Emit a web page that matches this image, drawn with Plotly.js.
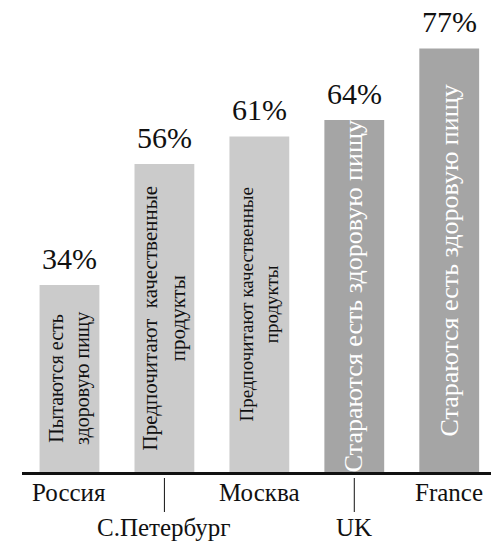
<!DOCTYPE html>
<html><head><meta charset="utf-8">
<script src="https://cdn.plot.ly/plotly-3.0.1.min.js"></script>
<style>html,body{margin:0;padding:0;background:#fff}#chart{width:491px;height:546px}</style>
</head><body><div id="chart"></div>
<script>
const categories = ["Россия", "С.Петербург", "Москва", "UK", "France"];
const values = [34, 56, 61, 64, 77];
const innerTexts = [
  "Пытаются есть<br>здоровую пищу",
  "Предпочитают  качественные<br>продукты",
  "Предпочитают качественные<br>продукты",
  "Стараются есть здоровую пищу",
  "Стараются есть здоровую пищу"
];
const barColors = ["#cbcbcb", "#cbcbcb", "#cbcbcb", "#a5a5a5", "#a5a5a5"];
const innerColors = ["#111", "#111", "#111", "#fff", "#fff"];
const innerSizes = [20, 21, 19, 26, 26];
const FONT = "Liberation Serif";
const plotH = 472;

const annotations = [];
const shapes = [];
categories.forEach((c, i) => {
  annotations.push({x: c, y: values[i], xref: 'x', yref: 'y', text: values[i] + '%',
    showarrow: false, yanchor: 'bottom', yshift: 8, font: {family: FONT, size: 30, color: '#111'}});
  annotations.push({x: c, y: values[i] / 2, xref: 'x', yref: 'y', text: innerTexts[i],
    showarrow: false, textangle: -90, font: {family: FONT, size: innerSizes[i], color: innerColors[i]}});
  const low = i % 2 === 1;
  annotations.push({x: c, y: 0, xref: 'x', yref: 'paper', text: c, showarrow: false,
    yanchor: 'top', yshift: low ? -40 : -5, font: {family: FONT, size: 25, color: '#111'}});
  if (low) {
    shapes.push({type: 'line', xref: 'x', yref: 'paper', x0: c, x1: c,
      y0: -6 / plotH, y1: -40 / plotH, line: {color: '#111', width: 1}});
  }
});

const data = [{
  type: 'bar', x: categories, y: values, width: 0.63,
  marker: {color: barColors}, hoverinfo: 'none'
}];
const layout = {
  width: 491, height: 546,
  margin: {l: 22, r: 0, t: 0, b: 74},
  paper_bgcolor: '#fff', plot_bgcolor: '#fff',
  showlegend: false,
  font: {family: FONT},
  xaxis: {type: 'category', range: [-0.5, 4.44], showline: true, linewidth: 3, linecolor: '#111',
    showticklabels: false, ticks: '', showgrid: false, zeroline: false},
  yaxis: {range: [0, 85.8], visible: false, showgrid: false, zeroline: false},
  annotations: annotations, shapes: shapes
};
Plotly.newPlot('chart', data, layout, {displayModeBar: false, staticPlot: true});
</script></body></html>
